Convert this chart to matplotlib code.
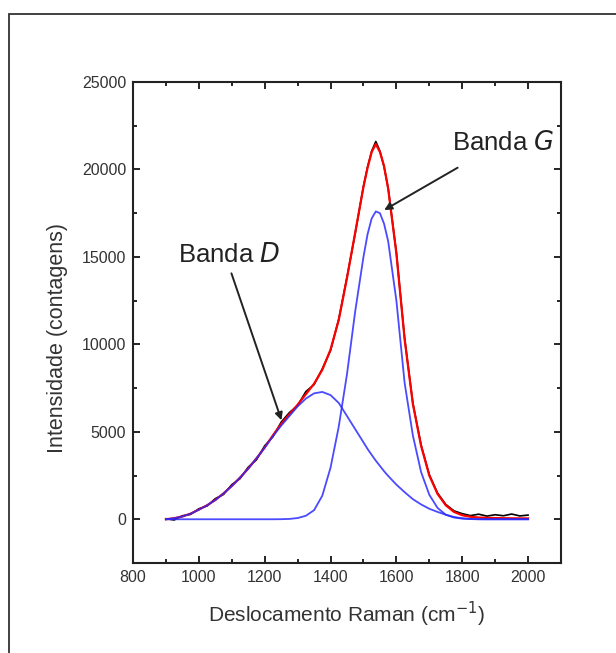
import matplotlib
matplotlib.use("Agg")
import matplotlib.pyplot as plt
from matplotlib.patches import Rectangle

plt.rcParams['font.family'] = ['Liberation Sans', 'DejaVu Sans']

# ---- data ----
wavenumber = [900, 925, 950, 975, 1000, 1025, 1050, 1075, 1100, 1125, 1150, 1175,
              1200, 1225, 1250, 1275, 1300, 1325, 1350, 1375, 1400, 1425, 1450, 1475,
              1500, 1512.5, 1525, 1537.5, 1550, 1562.5, 1575, 1600, 1625, 1650, 1675,
              1700, 1725, 1750, 1775, 1800, 1825, 1850, 1875, 1900, 1925, 1950, 1975, 2000]

measured = [30, -40, 200, 280, 600, 760, 1180, 1420, 1980, 2320, 2980, 3400,
            4200, 4720, 5550, 6100, 6500, 7300, 7700, 8600, 9650, 11450, 13850, 16350,
            19050, 20150, 21050, 21600, 21050, 20150, 18950, 15250, 10350, 6650, 4250,
            2550, 1500, 850, 480, 320, 210, 290, 180, 260, 200, 300, 190, 240]

fit_total = [0, 60, 160, 320, 550, 800, 1100, 1480, 1900, 2380, 2900, 3480,
             4100, 4800, 5450, 6000, 6550, 7150, 7750, 8550, 9700, 11400, 13800, 16400,
             19000, 20100, 21000, 21450, 21000, 20200, 18900, 15200, 10300, 6600, 4200,
             2500, 1450, 800, 420, 230, 140, 100, 80, 70, 60, 55, 50, 50]

band_D = [0, 60, 160, 320, 550, 800, 1100, 1480, 1900, 2380, 2900, 3480,
          4100, 4750, 5350, 5900, 6450, 6900, 7200, 7280, 7100, 6650, 5900, 5150,
          4400, 4020, 3680, 3350, 3050, 2750, 2480, 1980, 1550, 1150, 850,
          600, 420, 260, 130, 60, 20, 5, 0, 0, 0, 0, 0, 0]

band_G = [0, 0, 0, 0, 0, 0, 0, 0, 0, 0, 0, 0,
          0, 0, 5, 20, 70, 200, 520, 1350, 2950, 5300, 8300, 11900,
          15000, 16300, 17200, 17600, 17500, 16900, 15900, 12500, 7800, 4800, 2700,
          1400, 650, 260, 100, 35, 10, 0, 0, 0, 0, 0, 0, 0]

x_ticks = [800, 1000, 1200, 1400, 1600, 1800, 2000]
y_ticks = [0, 5000, 10000, 15000, 20000, 25000]

fig = plt.figure(figsize=(6.16, 6.53), dpi=100)
ax = fig.add_axes([133/616, 90/653, (561-133)/616, (571-90)/653])

# outer frame
fig.patches.append(Rectangle((9/616, -0.2), 1.5, 0.2 + 639/653,
                             transform=fig.transFigure, fill=False,
                             edgecolor='#333333', linewidth=1.3))

ax.plot(wavenumber, measured, color='black', lw=1.2, zorder=2)
ax.plot(wavenumber, fit_total, color='#ff0000', lw=1.6, zorder=3)
ax.plot(wavenumber, band_D, color='#2a2aff', lw=1.3, alpha=0.85, zorder=4)
ax.plot(wavenumber, band_G, color='#2a2aff', lw=1.3, alpha=0.85, zorder=4)

ax.set_xlim(800, 2100)
ax.set_ylim(-2500, 25000)
ax.set_xticks(x_ticks)
ax.set_yticks(y_ticks)
ax.set_xticks(range(900, 2100, 200), minor=True)
ax.set_yticks(range(-2500, 25000, 5000), minor=True)

ax.tick_params(which='both', direction='in', top=True, right=True,
               labelsize=11.5, labelcolor='#333333', width=1.2)
ax.tick_params(which='major', length=5, pad=5)
ax.tick_params(which='minor', length=3)
for s in ax.spines.values():
    s.set_linewidth(1.5)
    s.set_color('#222222')

ax.set_xlabel('Deslocamento Raman (cm$^{-1}$)', fontsize=15, color='#333333', labelpad=11)
ax.set_ylabel('Intensidade (contagens)', fontsize=15.5, color='#333333')
ax.yaxis.set_label_coords(-0.151, 0.468)

ax.text(936, 15100, 'Banda $\\it{D}$', fontsize=18.5, color='#222222', va='center', ha='left')
ax.text(1770, 21500, 'Banda $\\it{G}$', fontsize=18.5, color='#222222', va='center', ha='left')

ax.annotate('', xy=(1251, 5660), xytext=(1099, 14060),
            arrowprops=dict(arrowstyle='-|>', color='#222222', lw=1.4,
                            mutation_scale=11, shrinkA=0, shrinkB=0), zorder=6)
ax.annotate('', xy=(1563, 17680), xytext=(1786, 20100),
            arrowprops=dict(arrowstyle='-|>', color='#222222', lw=1.4,
                            mutation_scale=11, shrinkA=0, shrinkB=0), zorder=6)

fig.savefig('out.png', dpi=100)
